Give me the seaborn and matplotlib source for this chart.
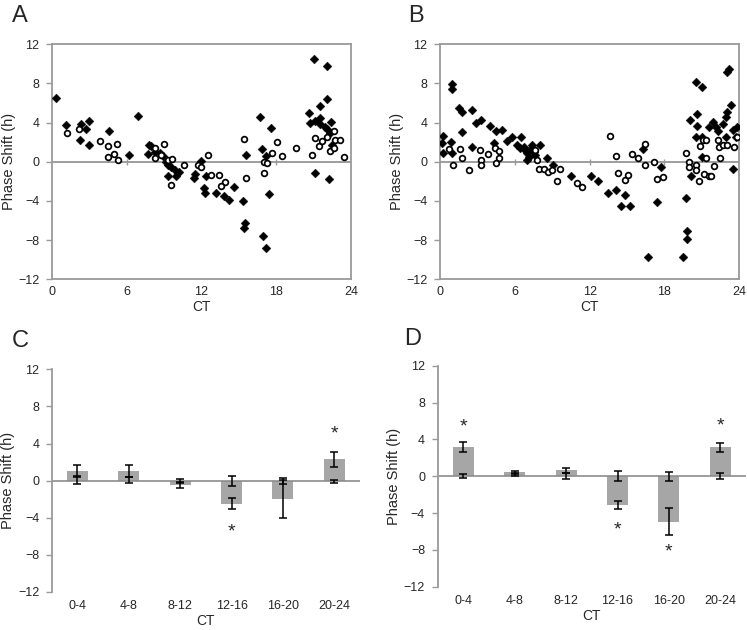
"""
Phase shift figure: scatter of individual shifts (A, B) and binned means (C, D).
"""

import numpy as np
import pandas as pd
import matplotlib
matplotlib.use("Agg")
import matplotlib.pyplot as plt
import seaborn as sns

# -- Data ----------------------------------------------------------------------

# Panel A: treated (filled diamonds) and control (open circles)
A_treat_ct = [0.32, 1.12, 2.33, 3.0, 2.75, 2.3, 3.0, 4.6, 6.9, 6.2, 7.8, 7.75, 8.0, 8.3,
              8.7, 8.96, 9.2, 9.36, 9.6, 9.3, 9.9, 10.0, 10.2, 11.4, 11.5, 12.0, 12.4, 12.2,
              12.3, 13.2, 13.8, 14.25, 14.65, 15.3, 15.5, 15.4, 15.6, 16.7, 17.6, 16.9, 17.2,
              17.4, 16.97, 17.2, 21.0, 22.1, 22.1, 21.5, 20.6, 20.7, 21.1, 21.5, 21.5, 21.9,
              22.4, 22.1, 22.3, 22.5, 21.1, 22.2]
A_treat_shift = [6.5, 3.8, 3.84, 4.2, 3.3, 2.2, 1.7, 3.1, 4.66, 0.7, 1.7, 0.8, 1.6, 1.05,
                 0.9, 0.55, 0.0, -0.3, -0.5, -1.5, -0.8, -1.5, -1.0, -1.7, -1.2, 0.1, -1.4, -2.7,
                 -3.2, -3.2, -3.5, -3.9, -2.6, -4.05, -6.2, -6.8, 0.65, 4.56, 3.5, 1.3, 0.6,
                 -3.3, -7.6, -8.8, 10.5, 9.8, 6.4, 5.7, 5.0, 4.0, 4.2, 4.5, 3.9, 3.6,
                 4.1, 3.3, 2.9, 1.7, -1.1, -1.8]
A_ctrl_ct = [1.2, 2.2, 3.9, 4.5, 5.2, 5.0, 4.5, 5.3, 9.0, 8.3, 8.3, 8.8, 9.3, 9.65, 9.6,
             10.6, 11.7, 12.0, 12.5, 12.8, 13.4, 13.9, 13.6, 15.45, 15.6, 17.0, 17.3, 17.0,
             17.7, 18.05, 18.5, 19.6, 20.9, 21.1, 21.4, 21.7, 22.1, 22.6, 22.7, 23.1, 22.3,
             22.6, 23.45]
A_ctrl_shift = [2.9, 3.3, 2.1, 1.6, 1.8, 0.8, 0.5, 0.2, 1.8, 1.4, 0.4, 0.7, 0.2, 0.3, -2.35,
                -0.3, -0.3, -0.5, 0.7, -1.3, -1.3, -2.1, -2.5, 2.3, -1.7, 0.0, -0.1, -1.15,
                0.9, 2.0, 0.6, 1.4, 0.65, 2.4, 1.6, 2.1, 2.5, 3.1, 2.2, 2.2, 1.15,
                1.4, 0.5]

# Panel B
B_treat_ct = [0.27, 0.2, 0.27, 0.86, 1.0, 0.96, 0.94, 1.55, 1.74, 1.74, 2.6, 2.6, 2.9, 3.3,
              4.0, 4.5, 5.0, 4.3, 5.4, 5.75, 6.5, 6.15, 6.4, 6.7, 6.8, 6.95, 7.1, 7.2, 7.35,
              7.5, 7.6, 8.0, 6.95, 8.55, 9.1, 10.5, 12.1, 12.7, 13.45, 14.1, 14.8, 14.5, 15.2,
              16.3, 17.4, 17.7, 16.7, 19.5, 19.7, 19.8, 19.8, 20.1, 20.5, 21.0, 20.05, 20.6,
              20.6, 20.5, 21.0, 21.0, 21.6, 21.9, 22.1, 22.3, 22.7, 22.9, 23.0, 23.3, 23.0,
              23.2, 23.5, 23.8, 23.7, 22.95, 23.5]
B_treat_shift = [2.6, 1.9, 0.85, 2.0, 0.9, 7.9, 7.45, 5.5, 5.1, 3.0, 5.3, 1.5, 4.0, 4.3,
                 3.7, 3.1, 3.2, 1.9, 2.1, 2.55, 2.55, 1.7, 1.4, 1.5, 1.2, 0.85, 0.5, 1.2, 1.7,
                 1.0, 0.7, 1.7, 0.2, 0.4, -0.3, -1.5, -1.46, -2.0, -3.2, -2.9, -3.4, -4.5, -4.5,
                 1.3, -4.1, -0.5, -9.7, -9.7, -3.7, -7.1, -7.9, -1.46, 8.2, 7.6, 4.3, 4.9,
                 3.7, 2.5, 2.5, 0.5, 3.6, 4.1, 3.6, 3.1, 3.9, 4.6, 5.1, 5.8, 9.2,
                 9.5, 3.2, 3.6, 2.55, 2.55, -0.7]
B_ctrl_ct = [0.75, 1.07, 1.6, 1.8, 2.3, 3.2, 3.25, 3.3, 3.85, 4.4, 4.7, 4.7, 4.5, 7.6, 7.8,
             7.95, 8.35, 8.7, 8.95, 9.6, 9.4, 10.96, 11.4, 13.6, 14.1, 14.3, 14.8, 15.1, 15.4,
             15.85, 16.4, 16.4, 17.2, 17.4, 17.9, 19.7, 20.0, 20.0, 20.5, 20.5, 20.8, 21.2,
             21.6, 21.7, 22.0, 22.45, 20.85, 21.1, 21.3, 21.3, 22.3, 22.4, 22.7, 23.0, 23.6,
             23.8]
B_ctrl_shift = [1.3, -0.35, 1.3, 0.4, -0.8, 1.2, 0.2, -0.3, 0.8, 1.4, 1.1, 0.35, -0.1, 1.2, 0.2,
                -0.7, -0.7, -1.0, -0.85, -0.7, -2.0, -2.2, -2.6, 2.6, 0.6, -1.1, -1.9, -1.3, 0.8,
                0.4, 1.8, -0.35, 0.0, -1.8, -1.6, 0.9, 0.0, -0.5, -0.35, -0.85, -2.0, -1.2,
                -1.46, -1.4, -0.45, 0.35, 1.6, 2.2, 2.2, 0.35, 2.2, 1.5, 1.7, 1.7, 1.5,
                2.55]

# Panels C and D: binned means +/- SEM, treated (bars) and control (at ~0)
CT_BINS = ["0-4", "4-8", "8-12", "12-16", "16-20", "20-24"]

C_mean = [1.05, 1.05, -0.45, -2.5, -1.98, 2.3]
C_sem = [0.6, 0.68, 0.33, 0.6, 2.0, 0.83]
C_ctrl_mean = [0.0, 0.05, -0.05, -0.04, -0.02, -0.05]
C_ctrl_sem = [0.36, 0.33, 0.25, 0.54, 0.34, 0.15]
C_star_bins = ["12-16", "20-24"]
C_star_y = [-5.5, 5.0]

D_mean = [3.15, 0.43, 0.62, -3.15, -4.95, 3.15]
D_sem = [0.53, 0.18, 0.3, 0.45, 1.47, 0.47]
D_ctrl_mean = [0.03, 0.15, 0.05, 0.02, 0.0, 0.0]
D_ctrl_sem = [0.25, 0.15, 0.3, 0.56, 0.48, 0.33]
D_star_bins = ["0-4", "12-16", "16-20", "20-24"]
D_star_y = [5.4, -5.8, -8.2, 5.5]

# -- Style ---------------------------------------------------------------------

sns.set_style("white")
plt.rcParams["font.family"] = ["Liberation Sans", "DejaVu Sans"]
plt.rcParams["font.size"] = 9

AXIS_GRAY = "#9a9a9a"
BAR_GRAY = "#a6a6a6"
W, H = 747, 630


def px_axes(fig, left, top, right, bottom):
    """Create axes from pixel box (top-left origin)."""
    return fig.add_axes([left / W, 1 - bottom / H, (right - left) / W, (bottom - top) / H])


def common_y(ax):
    ax.set_ylim(-12, 12)
    ax.set_yticks(np.arange(-12, 13, 4))
    ax.tick_params(axis="y", direction="out", length=4, width=1, color=AXIS_GRAY,
                   labelsize=9, pad=5, left=True)
    ax.axhline(0, color="#8c8c8c", linewidth=1.2, zorder=2)
    ax.set_ylabel("Phase Shift (h)", fontsize=10.5)
    # coordinate is the right edge of the rotated label
    ax.yaxis.set_label_coords(-0.12, 0.5)


def plot_scatter(ax, t_ct, t_shift, c_ct, c_shift):
    sns.scatterplot(x=t_ct, y=t_shift, marker="D", s=20, color="black",
                    edgecolor="black", linewidth=0.3, ax=ax, zorder=3)
    sns.scatterplot(x=c_ct, y=c_shift, marker="o", s=17, color="white",
                    edgecolor="black", linewidth=1.25, ax=ax, zorder=4)
    ax.set_xlim(0, 24)
    ax.set_xticks([0, 6, 12, 18, 24])
    ax.tick_params(axis="x", length=0, labelsize=9, pad=5)
    common_y(ax)
    # excel-style small ticks sitting on the zero line
    ax.vlines(ax.get_xticks()[1:-1], -0.3, 0.3, color=AXIS_GRAY, linewidth=1, zorder=2)
    for sp in ax.spines.values():
        sp.set_color(AXIS_GRAY)
        sp.set_linewidth(1.3)
    ax.set_xlabel("CT", fontsize=10)
    ax.xaxis.set_label_coords(0.5, -0.09)


def plot_bars(ax, mean, sem, ctrl_mean, ctrl_sem, star_bins, star_y):
    df = pd.DataFrame({"CT": CT_BINS, "shift": mean})
    sns.barplot(data=df, x="CT", y="shift", color=BAR_GRAY, saturation=1,
                width=0.41, errorbar=None, linewidth=0, ax=ax, zorder=1)
    x = np.arange(len(CT_BINS))
    ax.errorbar(x, mean, yerr=sem, fmt="none", ecolor="black", elinewidth=1.1,
                capsize=3, capthick=1.1, zorder=4)
    ax.errorbar(x, ctrl_mean, yerr=ctrl_sem, fmt="none", ecolor="black", elinewidth=1.1,
                capsize=3, capthick=1.1, zorder=4)
    for b, y in zip(star_bins, star_y):
        ax.text(CT_BINS.index(b), y, "*", ha="center", va="center", fontsize=14)
    ax.set_xlim(-0.5, len(CT_BINS) - 0.5)
    ax.tick_params(axis="x", length=0, labelsize=9, pad=6)
    common_y(ax)
    for name, sp in ax.spines.items():
        sp.set_visible(name == "left")
    ax.spines["left"].set_color(AXIS_GRAY)
    ax.spines["left"].set_linewidth(1.3)
    ax.set_xlabel("CT", fontsize=10)
    ax.xaxis.set_label_coords(0.5, -0.1)


def main():
    fig = plt.figure(figsize=(W / 100, H / 100), dpi=100)

    ax_a = px_axes(fig, 51.7, 44.3, 351, 279.3)
    ax_b = px_axes(fig, 440, 44.3, 739.3, 279.3)
    ax_c = px_axes(fig, 51.8, 369.3, 360, 592)
    ax_d = px_axes(fig, 437.6, 365.7, 746, 586.7)

    plot_scatter(ax_a, A_treat_ct, A_treat_shift, A_ctrl_ct, A_ctrl_shift)
    plot_scatter(ax_b, B_treat_ct, B_treat_shift, B_ctrl_ct, B_ctrl_shift)
    plot_bars(ax_c, C_mean, C_sem, C_ctrl_mean, C_ctrl_sem, C_star_bins, C_star_y)
    plot_bars(ax_d, D_mean, D_sem, D_ctrl_mean, D_ctrl_sem, D_star_bins, D_star_y)

    for label, (lx, ly) in zip("ABCD", [(12, 5), (408, 5), (12, 330), (404, 328)]):
        fig.text(lx / W, 1 - ly / H, label, fontsize=17, ha="left", va="top")

    fig.savefig("out.png", dpi=100)
    plt.close(fig)


if __name__ == "__main__":
    main()
